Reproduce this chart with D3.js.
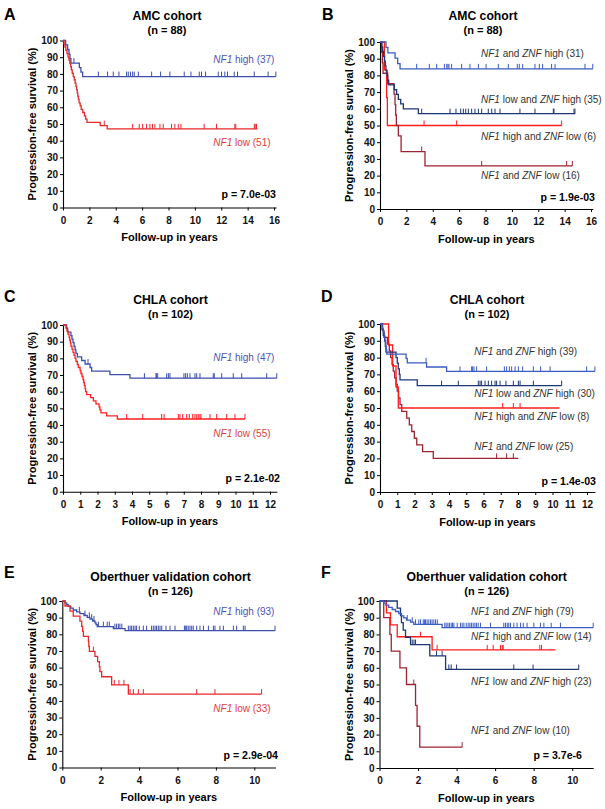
<!DOCTYPE html>
<html><head><meta charset="utf-8">
<script src="https://cdn.jsdelivr.net/npm/d3@7"></script>
<style>body{margin:0;background:#fff;} svg{display:block;} text{font-family:"Liberation Sans",Arial,Helvetica,sans-serif;}</style>
</head><body><svg id="c" width="605" height="809"></svg>
<script>
// ===== DATA (step points: [years, survival %], censor times in years) =====
const A_titles = ["AMC cohort", "(n = 88)"];
const A_labels = ["NF1 high (37)", "NF1 low (51)"];
const A_p = "p = 7.0e-03";
const A_xticks = [0, 2, 4, 6, 8, 10, 12, 14, 16];
const A_high_steps = [[0.2,97.3],[0.35,94.6],[0.45,91.9],[0.53,89.2],[0.6,86.5],[1.24,83.8],[1.36,81.1],[1.49,78.4]];
const A_high_censor = [0.83,2.68,3.38,3.81,4.24,4.82,4.95,5.12,5.28,5.4,5.71,6.72,7.4,8.1,9.19,9.7,10.33,10.5,10.81,11.77,12.02,12.27,12.47,12.98,13.23,14.5,15.55,16.14];
const A_high_end = 16.14;
const A_low_steps = [[0.08,98.0],[0.15,96.1],[0.22,94.1],[0.3,92.2],[0.38,90.2],[0.45,88.2],[0.52,86.3],[0.58,84.3],[0.63,82.4],[0.7,80.4],[0.78,78.4],[0.85,76.5],[0.92,74.5],[0.98,72.5],[1.03,70.6],[1.08,68.6],[1.12,66.7],[1.17,64.7],[1.22,62.7],[1.3,60.8],[1.38,58.8],[1.5,56.9],[1.62,54.9],[1.72,52.9],[1.82,51.0],[2.82,49.0],[3.35,47.1]];
const A_low_censor = [3.13,5.28,5.78,6.04,6.34,6.59,6.79,6.97,7.35,7.6,8.23,8.48,8.74,8.94,10.7,11.64,13.03,13.1,14.5,14.57,14.67];
const A_low_end = 14.75;

const B_titles = ["AMC cohort", "(n = 88)"];
const B_labels = ["NF1 and ZNF high (31)", "NF1 low and ZNF high (35)", "NF1 high and ZNF low (6)", "NF1 and ZNF low (16)"];
const B_p = "p = 1.9e-03";
const B_xticks = [0, 2, 4, 6, 8, 10, 12, 14, 16];
const B_hh_steps = [[0.45,96.8],[0.6,93.5],[1.14,90.3],[1.34,87.1],[1.52,83.9]];
const B_hh_censor = [2.78,3.74,4.3,4.88,5.06,5.15,5.23,5.43,6.19,6.82,7.46,8.04,8.97,9.73,10.41,10.56,10.82,11.75,12.08,12.33,13.01,13.27,15.54,16.13];
const B_hh_end = 16.13;
const B_lh_steps = [[0.13,97.1],[0.2,94.3],[0.28,91.4],[0.35,88.6],[0.4,85.7],[0.45,82.9],[0.53,80.0],[0.58,77.1],[0.66,74.3],[1.09,71.4],[1.26,68.6],[1.39,65.7],[1.57,62.9],[1.77,60.0],[2.91,57.1]];
const B_lh_censor = [3.16,5.31,5.76,6.12,6.32,6.5,6.7,6.95,7.2,7.46,7.71,8.21,8.47,8.72,9.1,10.61,11.75,13.14,13.19,14.71,14.78];
const B_lh_end = 14.8;
const B_hl_steps = [[0.33,83.3],[0.5,66.7],[0.56,50.0]];
const B_hl_censor = [3.34,5.81,13.77];
const B_hl_end = 13.77;
const B_ll_steps = [[0.13,93.8],[0.18,87.5],[0.23,81.3],[0.58,75.0],[1.06,68.8],[1.14,62.5],[1.19,56.3],[1.24,50.0],[1.39,43.8],[1.6,34.4],[3.41,25.8]];
const B_ll_censor = [3.16,7.71,14.15,14.58];
const B_ll_end = 14.58;

const C_titles = ["CHLA cohort", "(n = 102)"];
const C_labels = ["NF1 high (47)", "NF1 low (55)"];
const C_p = "p = 2.1e-02";
const C_xticks = [0,1,2,3,4,5,6,7,8,9,10,11,12];
const C_high_steps = [[0.21,97.9],[0.27,95.7],[0.46,93.6],[0.52,91.5],[0.58,89.4],[0.64,87.2],[0.7,85.1],[0.75,83.0],[0.83,80.9],[1.08,78.7],[1.28,76.6],[1.57,74.5],[1.66,72.3],[2.72,70.2],[3.88,68.1]];
const C_high_censor = [1.45,4.72,5.39,5.43,5.49,6.01,6.11,6.2,7.01,7.11,7.21,7.36,7.65,7.75,7.94,8.71,8.77,9.2,9.87,10.36,11.81,12.39];
const C_high_end = 12.39;
const C_low_steps = [[0.17,98.2],[0.23,96.4],[0.29,94.5],[0.35,92.7],[0.39,90.9],[0.43,89.1],[0.46,87.3],[0.52,85.5],[0.58,83.6],[0.64,81.8],[0.7,80.0],[0.75,78.2],[0.83,76.4],[0.89,74.5],[0.99,72.7],[1.04,70.9],[1.1,69.1],[1.16,67.3],[1.2,65.5],[1.24,63.6],[1.28,61.8],[1.31,60.0],[1.37,58.2],[1.6,56.4],[1.76,54.5],[1.91,52.7],[2.09,50.9],[2.14,49.1],[2.2,47.3],[2.53,45.5],[3.15,43.6]];
const C_low_censor = [3.69,4.62,5.72,5.86,6.69,6.78,6.94,7.17,7.32,7.52,7.65,7.75,7.84,7.94,8.0,8.52,8.91,9.49,9.97,10.55];
const C_low_end = 10.55;

const D_titles = ["CHLA cohort", "(n = 102)"];
const D_labels = ["NF1 and ZNF high (39)", "NF1 low and ZNF high (30)", "NF1 high and ZNF low (8)", "NF1 and ZNF low (25)"];
const D_p = "p = 1.4e-03";
const D_xticks = [0,1,2,3,4,5,6,7,8,9,10,11,12];
const D_hh_steps = [[0.14,97.4],[0.19,94.9],[0.25,92.3],[0.29,89.7],[0.33,87.2],[0.35,84.6],[0.39,82.1],[1.51,79.5],[1.58,76.9],[2.7,74.4],[3.86,71.8]];
const D_hh_censor = [2.67,4.64,5.31,5.37,5.45,5.6,6.18,7.21,7.34,7.5,7.63,7.83,8.02,8.27,8.89,9.31,9.86,11.98,12.46];
const D_hh_end = 12.46;
const D_lh_steps = [[0.12,96.7],[0.19,93.3],[0.27,90.0],[0.31,86.7],[0.35,83.3],[0.93,80.0],[1.0,76.7],[1.06,73.3],[1.12,70.0],[1.16,66.7],[2.16,63.3]];
const D_lh_censor = [3.57,4.54,5.7,5.8,5.89,6.09,6.28,6.47,6.67,6.76,6.96,7.3,7.73,8.02,8.12,8.89,10.53];
const D_lh_end = 10.53;
const D_hl_steps = [[0.5,87.5],[0.73,75.0],[0.93,62.5],[1.06,50.0]];
const D_hl_censor = [7.11,7.73,8.12];
const D_hl_end = 10.4;
const D_ll_steps = [[0.15,96],[0.23,92],[0.43,88],[0.54,84],[0.62,80],[0.7,76],[0.77,72],[0.85,68],[0.93,64],[1.0,60],[1.08,56],[1.16,52],[1.26,48],[1.55,44],[1.7,40],[1.84,36],[1.99,32],[2.13,28],[2.47,24],[3.09,20]];
const D_ll_censor = [6.76,7.34,7.73];
const D_ll_end = 8.02;

const E_titles = ["Oberthuer validation cohort", "(n = 126)"];
const E_labels = ["NF1 high (93)", "NF1 low (33)"];
const E_p = "p = 2.9e-04";
const E_xticks = [0, 2, 4, 6, 8, 10];
const E_high_steps = [[0.14,98.9],[0.23,97.8],[0.31,96.8],[0.44,95.7],[0.57,94.6],[0.75,93.5],[0.92,92.4],[1.13,91.3],[1.3,90.2],[1.44,89.1],[1.58,88.0],[1.7,86.9],[1.76,85.8],[1.82,84.6],[2.66,83.4],[3.27,82.2]];
const E_high_censor = [0.89,1.18,1.41,1.53,1.65,1.88,2.14,2.34,2.45,2.74,2.83,2.92,3.0,3.1,3.44,3.53,3.61,3.7,3.79,3.87,4.01,4.22,4.39,4.65,4.74,4.83,4.91,5.0,5.09,5.18,5.4,5.61,5.87,6.36,6.43,6.48,6.56,6.65,6.74,6.82,7.0,7.17,7.35,7.61,7.87,7.95,8.21,8.39,8.91,9.08,9.43,9.52,11.08];
const E_high_end = 11.08;
const E_low_steps = [[0.14,97.0],[0.4,93.9],[0.57,90.9],[0.92,87.9],[1.01,84.8],[1.06,81.8],[1.1,78.8],[1.36,75.8],[1.38,72.7],[1.41,69.7],[1.7,66.7],[1.84,63.6],[1.93,60.6],[1.96,57.6],[2.05,54.5],[2.57,49.6],[3.44,44.1]];
const E_low_censor = [1.62,2.71,2.95,3.21,3.53,3.7,3.96,4.22,7.0,7.95,10.38];
const E_low_end = 10.38;

const F_titles = ["Oberthuer validation cohort", "(n = 126)"];
const F_labels = ["NF1 and ZNF high (79)", "NF1 high and ZNF low (14)", "NF1 low and ZNF high (23)", "NF1 and ZNF low (10)"];
const F_p = "p = 3.7e-6";
const F_xticks = [0, 2, 4, 6, 8, 10];
const F_hh_steps = [[0.22,98.7],[0.33,97.5],[0.48,96.2],[0.66,94.9],[0.83,93.7],[1.0,92.4],[1.14,91.1],[1.26,89.9],[1.4,88.6],[1.61,87.3],[1.78,86.0],[3.25,84.0]];
const F_hh_censor = [1.44,1.7,1.87,2.04,2.13,2.27,2.33,2.39,2.47,2.56,2.65,2.73,2.82,2.91,3.0,3.39,3.46,3.55,3.63,3.72,3.79,3.86,4.03,4.2,4.29,4.38,4.5,4.6,4.69,4.77,4.86,4.95,5.03,5.12,5.24,5.76,6.45,6.54,6.63,6.71,6.8,6.97,7.14,7.32,7.46,7.66,8.01,8.35,8.53,8.91,9.39,11.09];
const F_hh_end = 11.09;
const F_hl_steps = [[0.36,92.9],[0.57,85.7],[0.92,78.6],[2.73,70.7]];
const F_hl_censor = [2.13,2.99,5.59,5.9,6.28,6.37,6.42,8.32,8.41];
const F_hl_end = 9.13;
const F_lh_steps = [[0.92,95.7],[1.09,91.3],[1.14,87.0],[1.23,82.6],[1.35,78.3],[1.61,73.9],[2.61,67.2],[3.43,59.0]];
const F_lh_censor = [1.7,1.79,1.87,2.96,3.25,3.6,3.72,4.0,6.97,7.97,10.34];
const F_lh_end = 10.34;
const F_ll_steps = [[0.22,90],[0.54,80],[0.61,70],[1.06,60],[1.4,50],[1.87,37.5],[1.95,25],[2.09,12.5]];
const F_ll_censor = [1.78,4.29];
const F_ll_end = 4.29;

// ===== DRAWING =====
const svg = d3.select("#c");
const COL = {blue:"#3d4fae", red:"#e8282b", red2:"#ff2020", hh:"#3b5cc4", lh:"#1d3674", hl:"#ff1c1c", ll:"#9d2433",
             tblue:"#4d52b4", tred:"#e23b3b", tgray:"#333"};

function survAt(steps, t){ let s=100; for(const [tt,ss] of steps){ if(tt<=t) s=ss; else break; } return s; }

function richText(sel, str){
  str.split(/(NF1|ZNF)/).filter(d=>d.length).forEach(part=>{
    sel.append("tspan").text(part).attr("font-style", (part==="NF1"||part==="ZNF") ? "italic" : "normal");
  });
}

function drawPanel(p){
  const g = svg.append("g");
  const x = d3.scaleLinear().domain([0,p.xmax]).range([p.x0, p.x0 + p.xmax*p.pxy]);
  const y = d3.scaleLinear().domain([0,100]).range([p.y0, p.y1]);
  const ya = g.append("g").attr("transform",`translate(${p.x0},0)`)
    .call(d3.axisLeft(y).tickValues(d3.range(0,101,10)).tickSize(3).tickSizeOuter(0).tickPadding(2));
  const xa = g.append("g").attr("transform",`translate(0,${p.y0})`)
    .call(d3.axisBottom(x).tickValues(p.xticks).tickSize(3).tickSizeOuter(0).tickPadding(6));
  [ya,xa].forEach(a=>{
    a.select(".domain").attr("stroke","#000").attr("stroke-width",1.1);
    a.selectAll(".tick line").attr("stroke","#000");
    a.selectAll(".tick text").attr("font-size","10px").attr("font-weight","bold").attr("fill","#111")
      .attr("font-family",'"Liberation Sans",Arial,sans-serif');
  });
  // curves
  const line = d3.line().x(d=>x(d[0])).y(d=>y(d[1])).curve(d3.curveStepAfter);
  p.series.forEach(s=>{
    const last = s.steps.length ? s.steps[s.steps.length-1][1] : 100;
    const pts = [[0,100], ...s.steps, [s.end, last]];
    g.append("path").attr("d", line(pts)).attr("fill","none").attr("stroke", s.color).attr("stroke-width",1.3);
    g.selectAll(null).data(s.censor).join("line")
      .attr("x1", d=>x(d)).attr("x2", d=>x(d))
      .attr("y1", d=>y(survAt(s.steps,d))).attr("y2", d=>y(survAt(s.steps,d))-5)
      .attr("stroke", s.color).attr("stroke-width",1);
  });
  // labels
  p.labels.forEach((l,i)=>{
    const t = g.append("text").attr("x", p.lx).attr("y", p.ly[i]).attr("font-size","10px").attr("fill", p.lcol[i]);
    richText(t, l);
  });
  g.append("text").attr("x",p.tx).attr("y",p.ty).attr("text-anchor","middle").attr("font-size","12.2px").attr("font-weight","bold").text(p.titles[0]);
  g.append("text").attr("x",p.tx).attr("y",p.ty+13.5).attr("text-anchor","middle").attr("font-size","11px").attr("font-weight","bold").text(p.titles[1]);
  g.append("text").attr("x",p.letter[1]).attr("y",p.letter[2]).attr("font-size","16px").attr("font-weight","bold").text(p.letter[0]);
  const ymid = (p.y0+p.y1)/2;
  g.append("text").attr("transform",`translate(${p.ylx},${ymid}) rotate(-90)`).attr("text-anchor","middle").attr("dy","0.36em")
    .attr("font-size","11px").attr("font-weight","bold").text("Progression-free survival (%)");
  const xr = x.range();
  g.append("text").attr("x",(xr[0]+xr[1])/2).attr("y",p.y0+33.5).attr("text-anchor","middle")
    .attr("font-size","11px").attr("font-weight","bold").text("Follow-up in years");
  g.append("text").attr("x",p.px).attr("y",p.py).attr("text-anchor","end").attr("font-size","10.6px").attr("font-weight","bold").text(p.p);
}

const panels = [
  {x0:63, pxy:13.19, xmax:16.15, y0:207.5, y1:40.5, xticks:A_xticks, titles:A_titles, tx:167, ty:20, letter:["A",4,20], ylx:32.5,
   p:A_p, px:276, py:198, labels:A_labels, lx:213.3, ly:[62.8,146.2], lcol:[COL.tblue,COL.tred],
   series:[{steps:A_high_steps,censor:A_high_censor,end:A_high_end,color:COL.blue},
           {steps:A_low_steps,censor:A_low_censor,end:A_low_end,color:COL.red}]},
  {x0:380, pxy:13.19, xmax:16.13, y0:209, y1:42, xticks:B_xticks, titles:B_titles, tx:483, ty:20, letter:["B",322,20], ylx:349,
   p:B_p, px:595, py:200.5, labels:B_labels, lx:481, ly:[56.8,102.5,139.5,179.2], lcol:[COL.tgray,COL.tgray,COL.tgray,COL.tgray],
   series:[{steps:B_hl_steps,censor:B_hl_censor,end:B_hl_end,color:COL.hl},
           {steps:B_ll_steps,censor:B_ll_censor,end:B_ll_end,color:COL.ll},
           {steps:B_lh_steps,censor:B_lh_censor,end:B_lh_end,color:COL.lh},
           {steps:B_hh_steps,censor:B_hh_censor,end:B_hh_end,color:COL.hh}]},
  {x0:63, pxy:17.25, xmax:12.4, y0:491.7, y1:325, xticks:C_xticks, titles:C_titles, tx:170.5, ty:304.3, letter:["C",4,302], ylx:32.5,
   p:C_p, px:280, py:482, labels:C_labels, lx:213.3, ly:[361.2,436.8], lcol:[COL.tblue,COL.tred],
   series:[{steps:C_high_steps,censor:C_high_censor,end:C_high_end,color:COL.blue},
           {steps:C_low_steps,censor:C_low_censor,end:C_low_end,color:COL.red2}]},
  {x0:380, pxy:17.25, xmax:12.46, y0:492, y1:324, xticks:D_xticks, titles:D_titles, tx:487, ty:304.3, letter:["D",321,302], ylx:349,
   p:D_p, px:596, py:485, labels:D_labels, lx:474.3, ly:[354.5,396.8,420.2,449.5], lcol:[COL.tgray,COL.tgray,COL.tgray,COL.tgray],
   series:[{steps:D_ll_steps,censor:D_ll_censor,end:D_ll_end,color:COL.ll},
           {steps:D_hl_steps,censor:D_hl_censor,end:D_hl_end,color:COL.hl},
           {steps:D_lh_steps,censor:D_lh_censor,end:D_lh_end,color:COL.lh},
           {steps:D_hh_steps,censor:D_hh_censor,end:D_hh_end,color:COL.hh}]},
  {x0:62.3, pxy:19.2, xmax:11.1, y0:767.5, y1:601, xticks:E_xticks, titles:E_titles, tx:170.5, ty:581, letter:["E",4,578], ylx:32.5,
   p:E_p, px:278, py:759, labels:E_labels, lx:213.3, ly:[615.2,711.8], lcol:[COL.tblue,COL.tred],
   series:[{steps:E_high_steps,censor:E_high_censor,end:E_high_end,color:COL.blue},
           {steps:E_low_steps,censor:E_low_censor,end:E_low_end,color:COL.red}]},
  {x0:379.5, pxy:19.27, xmax:11.09, y0:768, y1:601, xticks:F_xticks, titles:F_titles, tx:486.7, ty:581, letter:["F",321,578], ylx:349,
   p:F_p, px:582, py:759, labels:F_labels, lx:471, ly:[614.5,640.2,685.2,733.5], lcol:[COL.tgray,COL.tgray,COL.tgray,COL.tgray],
   series:[{steps:F_ll_steps,censor:F_ll_censor,end:F_ll_end,color:COL.ll},
           {steps:F_hl_steps,censor:F_hl_censor,end:F_hl_end,color:COL.hl},
           {steps:F_lh_steps,censor:F_lh_censor,end:F_lh_end,color:COL.lh},
           {steps:F_hh_steps,censor:F_hh_censor,end:F_hh_end,color:COL.hh}]}
];
panels.forEach(drawPanel);
</script></body></html>
